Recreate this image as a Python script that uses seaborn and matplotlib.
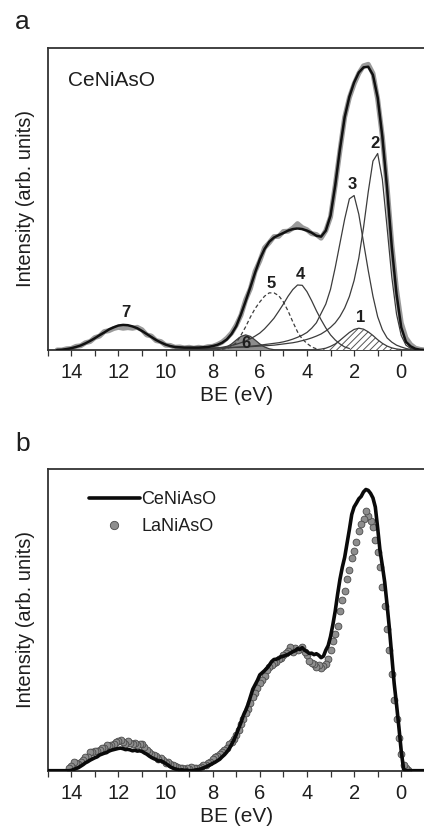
import numpy as np
import matplotlib
matplotlib.use("Agg")
import matplotlib.pyplot as plt
from matplotlib.ticker import MultipleLocator
from matplotlib.lines import Line2D
import seaborn as sns

# ---------------- data (intensity in % of axis height) ----------------
# Panel a: CeNiAsO valence band, measured data (grid start -1.0 eV, step 0.2 eV)
ce_a_start, ce_a_step = -1.0, 0.2
ce_a_data = [0.0, 0.2, 0.6, 1.8, 4.0, 9.0, 20.0, 35.0, 54.0, 70.5,
             83.0, 91.5, 94.5, 94.0, 91.5, 88.0, 83.5, 77.0, 66.0, 54.5,
             44.0, 39.5, 37.0, 38.2, 38.5, 39.8, 40.5, 41.8, 40.3, 39.3,
             39.2, 37.6, 37.5, 35.5, 33.8, 29.5, 26.0, 20.3, 16.6, 11.5,
             8.2, 5.6, 3.9, 2.6, 1.8, 1.2, 1.1, 0.7, 0.9, 0.6,
             0.9, 0.7, 1.0, 0.9, 1.5, 1.6, 2.8, 3.1, 4.6, 5.0,
             6.7, 7.5, 7.2, 7.4, 7.2, 7.5, 7.1, 6.4, 6.1, 4.6,
             4.1, 2.8, 2.4, 1.4, 1.2, 0.5, 0.4, 0.0, 0.0]
# Panel a: total fit envelope (same grid)
ce_a_fit = [0.0, 0.1, 0.4, 1.2, 2.7, 7.5, 18.5, 34.0, 53.5, 70.5,
            83.5, 91.0, 93.7, 93.5, 91.8, 88.5, 83.8, 77.0, 66.5, 54.5,
            44.5, 39.5, 37.5, 37.8, 38.8, 39.5, 40.0, 40.2, 40.0, 39.5,
            38.7, 38.0, 37.2, 35.8, 33.4, 30.0, 25.6, 20.8, 16.2, 11.8,
            7.9, 5.3, 3.5, 2.4, 1.7, 1.3, 1.0, 0.9, 0.8, 0.8,
            0.8, 0.8, 0.9, 1.0, 1.3, 1.8, 2.5, 3.3, 4.3, 5.3,
            6.3, 7.2, 7.8, 8.2, 8.3, 8.1, 7.5, 6.8, 5.8, 4.9,
            3.9, 3.0, 2.2, 1.5, 1.0, 0.6, 0.3, 0.1, 0.0]

# Fit components, each: (start energy, step 0.2 eV, intensities)
comp1_start = 0.0
comp1 = [0.15, 0.34, 0.7, 1.3, 2.2, 3.4, 4.8, 6.0, 6.9, 7.2,
         6.8, 5.8, 4.5, 3.2, 2.0, 1.2, 0.6, 0.3, 0.1]
comp2_start = -0.6
comp2 = [0.1, 0.5, 1.6, 4.8, 11.9, 24.1, 40.5, 56.4, 65.0, 62.5,
         52.3, 40.5, 30.4, 23.0, 17.7, 13.9, 11.1, 9.0, 7.5, 6.3,
         5.3, 4.6, 4.0, 3.5, 3.1, 2.7, 2.4, 2.2, 2.0, 1.8,
         1.6, 1.5, 1.4, 1.3, 1.2, 1.1, 1.0, 0.95, 0.9, 0.85,
         0.8, 0.75, 0.7, 0.65, 0.6, 0.55, 0.5, 0.45, 0.4, 0.35,
         0.3, 0.25]
comp3_start = -0.4
comp3 = [0.2, 0.5, 1.0, 1.6, 2.6, 4.0, 6.7, 11.0, 17.8, 26.3,
         35.6, 44.9, 51.1, 50.0, 43.3, 35.3, 27.3, 20.1, 15.2, 12.1,
         9.0, 7.2, 5.8, 4.9, 4.2, 3.6, 3.1, 2.7, 2.4, 2.2,
         2.0, 1.8, 1.6, 1.4, 1.25, 1.1, 1.0, 0.9, 0.8, 0.7,
         0.65, 0.6, 0.55]
comp4_start = 2.2
comp4 = [0.5, 1.0, 2.0, 3.3, 5.0, 7.3, 10.0, 13.0, 16.3, 19.3,
         21.4, 21.5, 20.0, 17.8, 15.2, 12.8, 10.5, 8.7, 7.0, 5.6,
         4.6, 3.7, 3.0, 2.4, 1.9, 1.5, 1.2, 0.9, 0.7, 0.5,
         0.4, 0.3]
comp5_start = 3.6
comp5 = [0.4, 1.0, 2.2, 3.6, 6.0, 9.3, 12.9, 15.9, 18.0, 18.9,
         18.9, 17.8, 15.9, 13.7, 10.9, 7.7, 4.9, 2.4, 1.2, 0.5, 0.2]
comp6_start = 5.4
comp6 = [0.1, 0.4, 1.0, 2.0, 3.3, 4.5, 5.0, 4.5, 3.3, 2.0, 1.0, 0.4, 0.1]
comp_step = 0.2

peak_labels = ["1", "2", "3", "4", "5", "6", "7"]
peak_label_x = [1.74, 1.10, 2.08, 4.28, 5.53, 6.59, 11.7]
peak_label_y = [10.6, 68.4, 54.9, 25.1, 22.1, 2.3, 12.5]

# Panel b: CeNiAsO (line) grid start -1.0 eV, step 0.1 eV
ce_b_start, ce_b_step = -1.0, 0.1
ce_b = [0, 0, 0, 0, 0, 0, 0, 0, 0, 0.5,
        6.5, 14.5, 22.0, 29.0, 38.0, 47.0, 55.0, 62.5, 68.0, 73.0,
        80.5, 87.5, 90.5, 92.0, 93.0, 93.3, 92.5, 91.0, 90.2, 88.8,
        87.5, 85.0, 80.0, 75.5, 70.8, 67.5, 63.5, 58.5, 53.0, 48.5,
        44.5, 41.5, 40.0, 38.0, 37.5, 38.3, 38.8, 38.5, 39.0, 38.9,
        39.5, 40.0, 40.8, 40.2, 40.5, 39.8, 39.5, 39.0, 38.6, 38.3,
        38.0, 37.8, 37.3, 37.0, 36.9, 36.2, 35.0, 34.0, 33.2, 32.5,
        31.8, 30.0, 28.5, 27.0, 24.5, 22.0, 20.0, 18.3, 16.0, 14.0,
        12.0, 10.2, 8.7, 7.3, 6.2, 5.3, 4.6, 3.8, 3.3, 2.8,
        2.4, 2.0, 1.6, 1.2, 0.9, 0.6, 0.4, 0.3, 0.1, 0.0,
        0.0, 0.2, 0.1, 0.3, 0.2, 0.4, 0.6, 0.9, 1.3, 1.9,
        2.4, 2.9, 3.3, 3.2, 3.7, 4.0, 4.4, 4.9, 5.5, 5.9,
        6.4, 6.6, 6.5, 6.8, 6.6, 6.9, 7.1, 7.0, 7.3, 7.5,
        7.4, 7.2, 7.0, 6.8, 6.5, 6.0, 5.8, 5.5, 5.2, 4.6,
        4.3, 3.9, 3.5, 3.0, 2.6, 2.0, 1.5, 1.0, 0.7, 0.4,
        0.1, 0, 0, 0, 0, 0, 0, 0, 0, 0, 0]
# Panel b: LaNiAsO (circles) grid start -0.3 eV, step 0.1 eV
la_b_start, la_b_step = -0.3, 0.1
la_b = [0.3, 0.8, 2.0, 5.5, 11.0, 17.0, 23.5, 32.0, 40.0, 47.0,
        54.5, 61.0, 67.5, 72.5, 76.5, 81.0, 83.0, 84.5, 86.0, 83.5,
        82.0, 79.5, 76.0, 73.0, 70.5, 66.5, 63.5, 59.5, 56.5, 53.0,
        48.0, 45.5, 43.0, 40.0, 37.0, 35.5, 34.8, 34.0, 35.0, 34.5,
        35.5, 35.8, 36.5, 38.5, 39.5, 41.0, 40.5, 40.0, 40.8, 39.5,
        41.0, 39.8, 39.0, 38.4, 37.5, 37.0, 36.0, 35.6, 35.0, 34.5,
        33.5, 31.5, 30.0, 29.0, 27.5, 25.8, 24.5, 22.5, 20.5, 19.0,
        17.0, 15.5, 13.5, 12.0, 10.5, 9.5, 8.8, 7.5, 6.8, 6.2,
        5.5, 4.8, 4.5, 3.8, 3.0, 2.6, 2.0, 1.8, 1.2, 1.0,
        0.9, 0.8, 1.1, 0.7, 0.9, 0.6, 1.0, 0.8, 1.2, 1.5,
        1.9, 2.2, 2.8, 2.5, 3.6, 4.3, 4.0, 4.8, 5.3, 5.6,
        6.2, 6.8, 8.0, 8.7, 9.0, 8.5, 9.2, 8.8, 9.3, 9.8,
        9.0, 9.6, 10.3, 10.0, 9.6, 9.0, 8.6, 8.2, 8.5, 7.4,
        7.6, 7.0, 6.6, 6.5, 6.1, 6.3, 4.5, 4.6, 3.6, 3.0,
        2.2, 2.5, 3.0, 1.5, 0.8]

x_ticks = [14, 12, 10, 8, 6, 4, 2, 0]
x_label = "BE (eV)"
y_label = "Intensity (arb. units)"
legend_labels = ["CeNiAsO", "LaNiAsO"]


def grid(start, step, vals):
    return np.round(start + step * np.arange(len(vals)), 3)


# ---------------- style ----------------
sns.set_style("ticks")
plt.rcParams["font.family"] = ["Liberation Sans", "DejaVu Sans"]
plt.rcParams["hatch.linewidth"] = 0.7
plt.rcParams["hatch.color"] = "#555555"
TXT = "#1e1e1e"

W, H = 424, 833
fig = plt.figure(figsize=(W / 100, H / 100), dpi=100)


def axes_px(left, top, right, bottom):
    return fig.add_axes([left / W, 1 - bottom / H, (right - left) / W, (bottom - top) / H])


ax_a = axes_px(47.7, 47.7, 424.8, 350.0)
ax_b = axes_px(47.7, 469.3, 424.8, 770.7)


def style_axes(ax):
    ax.set_xlim(15, -1)
    ax.set_ylim(0, 100)
    ax.xaxis.set_major_locator(MultipleLocator(2))
    ax.xaxis.set_minor_locator(MultipleLocator(1))
    ax.set_xticks(x_ticks)
    ax.set_xticklabels([str(t) for t in x_ticks])
    ax.set_yticks([])
    ax.tick_params(axis="x", which="both", direction="out", length=4.0, width=0.9,
                   color="#333333", labelsize=14.5, labelcolor=TXT, pad=5.5,
                   top=False)
    for s in ["left", "top", "bottom"]:
        ax.spines[s].set_linewidth(1.3)
        ax.spines[s].set_color("#333333")
    ax.spines["right"].set_visible(False)
    ax.set_xlabel(x_label, fontsize=15, color=TXT, labelpad=3)
    ax.set_ylabel(y_label, fontsize=14.5, color=TXT, labelpad=9)


# ---------------- panel a ----------------
ax = ax_a
xa = grid(ce_a_start, ce_a_step, ce_a_data)
sns.lineplot(x=xa, y=ce_a_data, ax=ax, color="#9a9a9a", linewidth=3.6,
             estimator=None, sort=False, legend=False, zorder=2)

comp_line = dict(color="#3c3c3c", linewidth=0.9, estimator=None, sort=False, legend=False)

x1 = grid(comp1_start, comp_step, comp1)
ax.fill_between(x1, 0, comp1, facecolor="white", edgecolor="#555555", hatch="/////",
                linewidth=0, zorder=3)
sns.lineplot(x=x1, y=comp1, ax=ax, zorder=4, **comp_line)

x6 = grid(comp6_start, comp_step, comp6)
ax.fill_between(x6, 0, comp6, facecolor="#8c8c8c", edgecolor="none", zorder=3)
sns.lineplot(x=x6, y=comp6, ax=ax, zorder=4, **comp_line)

for start, vals in [(comp2_start, comp2), (comp3_start, comp3), (comp4_start, comp4)]:
    sns.lineplot(x=grid(start, comp_step, vals), y=vals, ax=ax, zorder=4, **comp_line)

sns.lineplot(x=grid(comp5_start, comp_step, comp5), y=comp5, ax=ax, zorder=4,
             color="#3c3c3c", linewidth=0.9, linestyle=(0, (3, 2)),
             estimator=None, sort=False, legend=False)

sns.lineplot(x=xa, y=ce_a_fit, ax=ax, color="#111111", linewidth=1.8,
             estimator=None, sort=False, legend=False, zorder=5)

for lab, lx, ly in zip(peak_labels, peak_label_x, peak_label_y):
    ax.text(lx, ly, lab, ha="center", va="center", fontsize=12, fontweight="bold",
            color=TXT, zorder=6)

ax.text(0.054, 0.893, "CeNiAsO", transform=ax.transAxes, ha="left", va="center",
        fontsize=15, color=TXT)
style_axes(ax)

# ---------------- panel b ----------------
ax = ax_b
xl = grid(la_b_start, la_b_step, la_b)
sns.scatterplot(x=xl, y=la_b, ax=ax, s=24, color="#8e8e8e", edgecolor="#4a4a4a",
                linewidth=0.6, legend=False, zorder=2)
xc = grid(ce_b_start, ce_b_step, ce_b)
sns.lineplot(x=xc, y=ce_b, ax=ax, color="#0a0a0a", linewidth=2.6,
             estimator=None, sort=False, legend=False, zorder=3)
handles = [Line2D([], [], color="#0a0a0a", linewidth=2.6),
           Line2D([], [], marker="o", linestyle="", markerfacecolor="#8e8e8e",
                  markeredgecolor="#4a4a4a", markersize=6, markeredgewidth=0.6)]
ax.legend(handles, legend_labels, loc="upper left", bbox_to_anchor=(0.1095, 0.927),
          frameon=False, handlelength=2.8, handletextpad=0.1, labelspacing=0.55,
          fontsize=13, borderpad=0, borderaxespad=0, labelcolor=TXT)
style_axes(ax)

fig.text(15 / W, 1 - 29 / H, "a", fontsize=19, color=TXT, ha="left", va="baseline")
fig.text(15 / W, 1 - 451.5 / H, "b", fontsize=19, color=TXT, ha="left", va="baseline")

fig.savefig("out.png", dpi=100)
